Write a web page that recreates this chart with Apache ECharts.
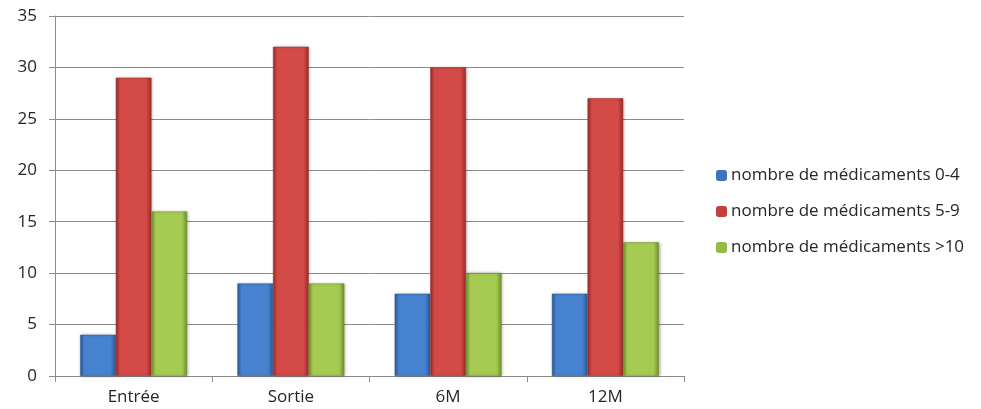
<!DOCTYPE html>
<html>
<head>
<meta charset="utf-8">
<script src="https://cdn.jsdelivr.net/npm/echarts@6/dist/echarts.min.js"></script>
<style>
  html, body { margin: 0; padding: 0; background: #fff; }
  #chart { width: 981px; height: 409px; }
</style>
</head>
<body>
<div id="chart"></div>
<script>
// Stays (categories) and counts per medication bracket
const categories = ['Entrée', 'Sortie', '6M', '12M'];
const seriesNames = ['nombre de médicaments 0-4', 'nombre de médicaments 5-9', 'nombre de médicaments >10'];
const meds04 = [4, 9, 8, 8];
const meds59 = [29, 32, 30, 27];
const meds10 = [16, 9, 10, 13];
const yTicks = { min: 0, max: 35, interval: 5 };

const palette = [
  { edge: '#2c5a98', mid: '#4682cf', legend: '#3d74bd' },
  { edge: '#992c29', mid: '#d44a46', legend: '#c23f3b' },
  { edge: '#72912b', mid: '#a5cb52', legend: '#95bb45' }
];

// Horizontal shading gives each bar a bevelled look
function bevel(p) {
  return new echarts.graphic.LinearGradient(0, 0, 1, 0, [
    { offset: 0, color: p.edge },
    { offset: 0.12, color: p.mid },
    { offset: 0.85, color: p.mid },
    { offset: 1, color: p.edge }
  ]);
}

const values = [meds04, meds59, meds10];
const font = '"Open Sans", "Liberation Sans", sans-serif';

const chart = echarts.init(document.getElementById('chart'), null, { renderer: 'canvas' });
chart.setOption({
  animation: false,
  backgroundColor: '#ffffff',
  grid: { left: 55, right: 297, top: 16, bottom: 33, containLabel: false },
  legend: {
    orient: 'vertical',
    left: 711,
    top: 162,
    itemWidth: 11,
    itemHeight: 11,
    itemGap: 19,
    textStyle: { fontFamily: font, fontSize: 17, color: '#262626', padding: [0, 0, 0, -1] },
    data: seriesNames.map((n, i) => ({ name: n, itemStyle: { color: palette[i].legend, borderWidth: 0 } }))
  },
  xAxis: {
    type: 'category',
    data: categories,
    axisLine: { lineStyle: { color: '#8c8c8c', width: 1 } },
    axisTick: { show: true, length: 6, lineStyle: { color: '#8c8c8c' } },
    axisLabel: { fontFamily: font, fontSize: 17, color: '#262626', margin: 13 }
  },
  yAxis: {
    type: 'value',
    min: yTicks.min,
    max: yTicks.max,
    interval: yTicks.interval,
    axisLine: { show: true, lineStyle: { color: '#8c8c8c', width: 1 } },
    axisTick: { show: true, length: 6, lineStyle: { color: '#8c8c8c' } },
    axisLabel: { fontFamily: font, fontSize: 17, color: '#262626', margin: 18 },
    splitLine: { lineStyle: { color: '#8c8c8c', width: 1 } }
  },
  series: seriesNames.map((n, i) => ({
    name: n,
    type: 'bar',
    data: values[i],
    barGap: '0%',
    barCategoryGap: '32%',
    itemStyle: {
      color: bevel(palette[i]),
      borderColor: palette[i].edge,
      borderWidth: 0.5,
      shadowColor: 'rgba(0,0,0,0.3)',
      shadowBlur: 3,
      shadowOffsetX: 1,
      shadowOffsetY: 0
    }
  }))
});
</script>
</body>
</html>
